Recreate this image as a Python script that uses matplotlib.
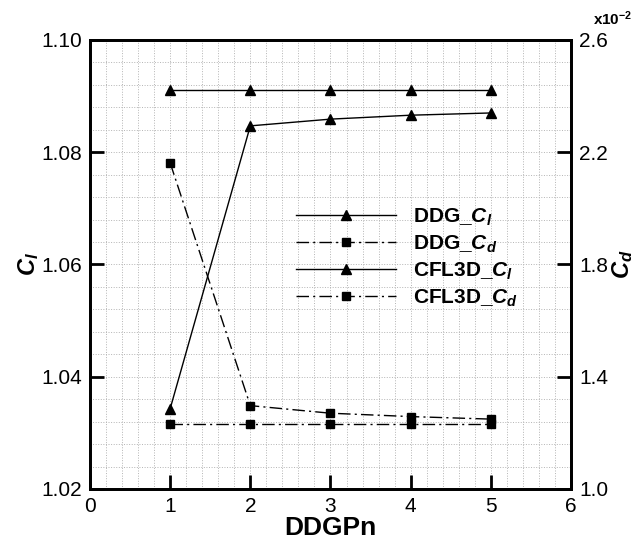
import numpy as np
import matplotlib
matplotlib.use("Agg")
import matplotlib.pyplot as plt
from matplotlib.ticker import MultipleLocator

# ================= 数据 =================
p = [1, 2, 3, 4, 5]

ddg_cl = [1.0343, 1.0847, 1.0859, 1.0866, 1.0870]
cfl3d_cl = [1.0911, 1.0911, 1.0911, 1.0911, 1.0911]

# Cd in units of 1e-2
ddg_cd = [2.162, 1.297, 1.270, 1.258, 1.249]
cfl3d_cd = [1.231, 1.231, 1.231, 1.231, 1.231]

cd_ticks = [1.0, 1.4, 1.8, 2.2, 2.6]

# ================= 样式 =================
plt.rcParams['font.family'] = ['Liberation Sans', 'DejaVu Sans']
plt.rcParams['mathtext.fontset'] = 'custom'
plt.rcParams['mathtext.it'] = 'Liberation Sans:italic:bold'
plt.rcParams['mathtext.rm'] = 'Liberation Sans:bold'
plt.rcParams['mathtext.bf'] = 'Liberation Sans:bold'

dashdot = (0, (9, 3, 1.5, 3))

fig = plt.figure(figsize=(6.4, 5.39), dpi=100)
ax1 = fig.add_axes([0.1406, 0.0928, 0.7516, 0.833])
ax2 = ax1.twinx()

l1, = ax1.plot(p, ddg_cl, color='black', lw=1, marker='^', ms=7, label=r'DDG_$C_l$')
l3, = ax1.plot(p, cfl3d_cl, color='black', lw=1, marker='^', ms=7, label=r'CFL3D_$C_l$')
l2, = ax2.plot(p, ddg_cd, color='black', lw=1, ls=dashdot, marker='s', ms=5.5, label=r'DDG_$C_d$')
l4, = ax2.plot(p, cfl3d_cd, color='black', lw=1, ls=dashdot, marker='s', ms=5.5, label=r'CFL3D_$C_d$')

ax1.set_xlim(0, 6)
ax1.set_ylim(1.02, 1.10)
ax2.set_ylim(1.0, 2.6)

ax1.xaxis.set_major_locator(MultipleLocator(1))
ax1.xaxis.set_minor_locator(MultipleLocator(0.2))
ax1.yaxis.set_major_locator(MultipleLocator(0.02))
ax1.yaxis.set_minor_locator(MultipleLocator(0.004))
ax2.set_yticks(cd_ticks)

ax1.yaxis.set_major_formatter(plt.FormatStrFormatter('%.2f'))
ax2.yaxis.set_major_formatter(plt.FormatStrFormatter('%.1f'))

ax1.grid(True, which='both', color='#b4b4b4', ls=':', lw=0.7)
ax1.set_axisbelow(True)

ax1.tick_params(which='major', direction='in', length=10, width=2, labelsize=15, pad=6, top=False, right=False)
ax1.tick_params(which='minor', length=0)
ax2.tick_params(which='major', direction='in', length=10, width=2, labelsize=15, pad=6)
ax2.tick_params(which='minor', length=0)

for ax in (ax1, ax2):
    for s in ax.spines.values():
        s.set_linewidth(2)

ax1.set_xlabel('DDGPn', fontsize=19, fontweight='bold', labelpad=0)
ax1.set_ylabel(r'$C_l$', fontsize=17, labelpad=0)
ax2.set_ylabel(r'$C_d$', fontsize=17, labelpad=1)

fig.text(0.927, 0.982, r'x10$^{-2}$', fontsize=11, fontweight='bold', ha='left', va='top')

leg = ax1.legend(handles=[l1, l2, l3, l4], loc='upper left', bbox_to_anchor=(0.446, 0.636),
                 bbox_transform=fig.transFigure, frameon=False, fontsize=15, handlelength=4.8,
                 numpoints=1, labelspacing=0.27, handletextpad=0.8, borderpad=0)
for t in leg.get_texts():
    t.set_fontweight('bold')

plt.savefig('out.png', dpi=100)
